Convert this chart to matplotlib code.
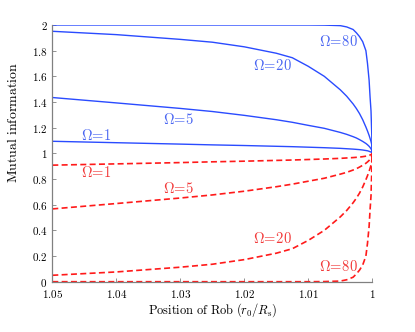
import matplotlib
matplotlib.use('Agg')
import matplotlib.pyplot as plt
from matplotlib.ticker import FixedLocator, FuncFormatter

matplotlib.rcParams['mathtext.fontset'] = 'cm'
matplotlib.rcParams['font.family'] = 'DejaVu Serif'

# ── Data ─────────────────────────────────────────────────────────────────────
r_pos = [1.05, 1.04, 1.03, 1.025, 1.02, 1.015, 1.0125, 1.01, 1.0075, 1.005,
         1.004, 1.003, 1.0025, 1.002, 1.0015, 1.001, 1.00075, 1.0005,
         1.00035, 1.0002, 1.0001, 1.0]

omegas = [1, 5, 20, 80]

mi_blue_1 = [1.094, 1.083, 1.072, 1.066, 1.061, 1.055, 1.052, 1.048, 1.044, 1.039,
             1.036, 1.033, 1.031, 1.029, 1.026, 1.022, 1.020, 1.016,
             1.013, 1.010, 1.007, 1.0]
mi_blue_5 = [1.435, 1.393, 1.350, 1.326, 1.296, 1.262, 1.242, 1.218, 1.195, 1.163,
             1.148, 1.130, 1.120, 1.107, 1.093, 1.077, 1.067, 1.055,
             1.046, 1.035, 1.025, 1.0]
mi_blue_20 = [1.951, 1.925, 1.888, 1.866, 1.830, 1.780, 1.745, 1.678, 1.600, 1.495,
              1.445, 1.385, 1.350, 1.310, 1.262, 1.205, 1.174, 1.140,
              1.117, 1.092, 1.071, 1.0]
mi_blue_80 = [2.0, 2.0, 2.0, 2.0, 2.0, 2.0, 2.0, 2.0, 1.999, 1.995,
              1.985, 1.965, 1.940, 1.910, 1.870, 1.800, 1.700, 1.570,
              1.440, 1.330, 1.170, 1.0]

mi_red_1 = [0.908, 0.918, 0.928, 0.934, 0.939, 0.945, 0.948, 0.952, 0.956, 0.961,
            0.964, 0.967, 0.969, 0.971, 0.974, 0.978, 0.980, 0.984,
            0.987, 0.990, 0.993, 1.0]
mi_red_5 = [0.567, 0.609, 0.652, 0.676, 0.705, 0.740, 0.760, 0.783, 0.806, 0.838,
            0.852, 0.870, 0.880, 0.893, 0.907, 0.923, 0.933, 0.945,
            0.954, 0.965, 0.975, 1.0]
mi_red_20 = [0.050, 0.076, 0.113, 0.136, 0.172, 0.222, 0.257, 0.322, 0.400, 0.505,
             0.555, 0.615, 0.650, 0.690, 0.738, 0.795, 0.826, 0.860,
             0.883, 0.908, 0.929, 1.0]
mi_red_80 = [0.0, 0.0, 0.0, 0.0, 0.0, 0.0, 0.0, 0.0, 0.001, 0.005,
             0.015, 0.035, 0.060, 0.090, 0.130, 0.200, 0.300, 0.430,
             0.560, 0.670, 0.830, 1.0]

x_ticks = [1.05, 1.04, 1.03, 1.02, 1.01, 1.0]
x_tick_labels = ['1.05', '1.04', '1.03', '1.02', '1.01', '1']
y_ticks = [0, 0.2, 0.4, 0.6, 0.8, 1.0, 1.2, 1.4, 1.6, 1.8, 2.0]
y_tick_labels = ['0', '0.2', '0.4', '0.6', '0.8', '1', '1.2', '1.4', '1.6', '1.8', '2']

# label anchor spots (data coords)
blue_label_pos = [(1.0431, 1.137), (1.0302, 1.267), (1.01555, 1.684), (1.00525, 1.875)]
red_label_pos = [(1.0431, 0.851), (1.0302, 0.723), (1.01555, 0.339), (1.00525, 0.117)]

# ── Colors ───────────────────────────────────────────────────────────────────
BLUE = '#2a4bff'
RED = '#ff1a1a'
BLUE_TXT = '#4a66f2'
RED_TXT = '#f23a3a'
AXIS_GRAY = '#808080'

# ── Figure ───────────────────────────────────────────────────────────────────
fig = plt.figure(figsize=(4.15, 3.32), dpi=100, facecolor='white')
ax = fig.add_axes([52.3 / 415, 1 - 281.7 / 332, 320 / 415, 256.7 / 332])

for ys in (mi_blue_1, mi_blue_5, mi_blue_20, mi_blue_80):
    ax.plot(r_pos, ys, color=BLUE, lw=1.0, solid_capstyle='butt')
for ys in (mi_red_1, mi_red_5, mi_red_20, mi_red_80):
    ax.plot(r_pos, ys, color=RED, lw=1.2, linestyle=(0, (3.6, 2.0)))

for om, (lx, ly) in zip(omegas, blue_label_pos):
    ax.text(lx, ly, r'$\Omega\!=\!%d$' % om, color=BLUE_TXT, fontsize=10.5,
            ha='center', va='center')
for om, (lx, ly) in zip(omegas, red_label_pos):
    ax.text(lx, ly, r'$\Omega\!=\!%d$' % om, color=RED_TXT, fontsize=10.5,
            ha='center', va='center')

ax.set_xlim(1.05, 1.0)
ax.set_ylim(0, 2)

ax.xaxis.set_major_locator(FixedLocator(x_ticks))
ax.xaxis.set_major_formatter(FuncFormatter(
    lambda v, i: '$%s$' % x_tick_labels[x_ticks.index(round(v, 2))]))
ax.yaxis.set_major_locator(FixedLocator(y_ticks))
ax.yaxis.set_major_formatter(FuncFormatter(
    lambda v, i: '$%s$' % y_tick_labels[y_ticks.index(round(v, 1))]))

for side in ('top', 'right'):
    ax.spines[side].set_visible(False)
for side in ('left', 'bottom'):
    ax.spines[side].set_color(AXIS_GRAY)
    ax.spines[side].set_linewidth(0.9)
ax.tick_params(direction='in', length=3, width=0.6, color=AXIS_GRAY,
               labelsize=8)
ax.tick_params(axis='x', pad=4.5)
ax.tick_params(axis='y', pad=3.5)

ax.set_xlabel(r'$\mathrm{Position\ of\ Rob\ }(r_0/R_\mathrm{s})$', fontsize=9)
ax.set_ylabel(r'$\mathrm{Mutual\ information}$', fontsize=10)
ax.xaxis.set_label_coords(0.5, -0.075)
ax.yaxis.set_label_coords(-0.10, 0.618)

fig.savefig('out.png', dpi=100, facecolor='white')
plt.close(fig)
